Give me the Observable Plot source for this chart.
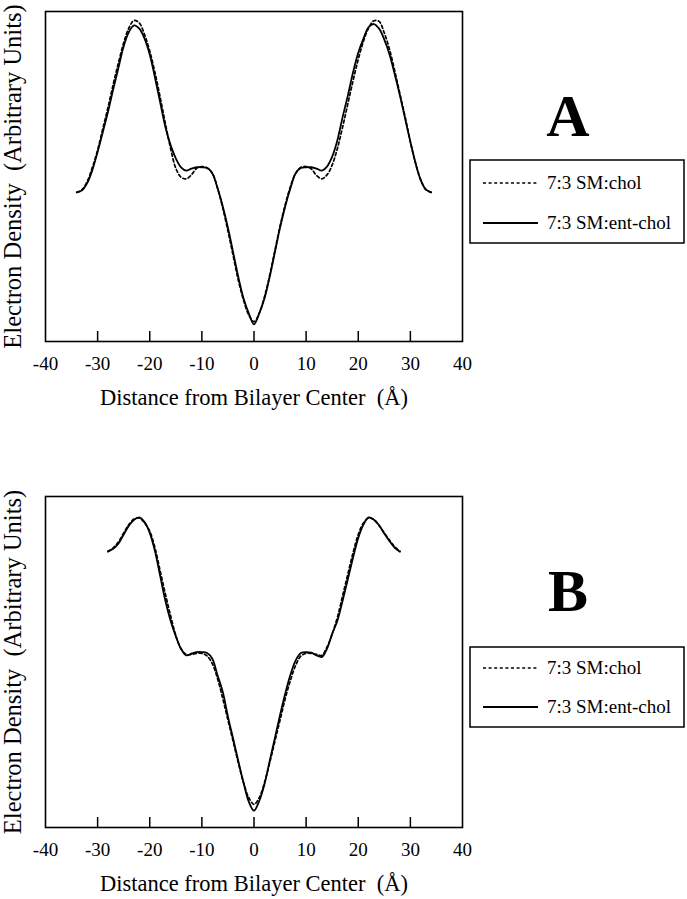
<!DOCTYPE html>
<html><head><meta charset="utf-8">
<script src="https://cdn.jsdelivr.net/npm/d3@7"></script>
<script src="https://cdn.jsdelivr.net/npm/@observablehq/plot@0.6"></script>
<style>
body{margin:0;background:#fff;font-family:"Liberation Serif","Times New Roman",serif;}
.panel{position:relative;width:687px;}
.overlay{position:absolute;left:465px;top:0;width:222px;}
</style></head><body>
<div id="A" class="panel"></div>
<div id="B" class="panel"></div>
<script>
// ---------- data ----------
const xTicks = [-40, -30, -20, -10, 0, 10, 20, 30, 40];
const seriesNames = ["7:3 SM:chol", "7:3 SM:ent-chol"];
const xLabel = "Distance from Bilayer Center\u00a0 (Å)";
const yLabel = "Electron Density\u00a0 (Arbitrary Units)";

// Panel A
const distA = [-34,-33,-32,-31,-30,-29,-28,-27,-26,-25,-24,-23,-22,-21,-20,-19,-18,-17,-16,-15,-14,-13,-12,-11,-10,-9,-8,-7,-6,-5,-4,-3,-2,-1,0,1,2,3,4,5,6,7,8,9,10,11,12,13,14,15,16,17,18,19,20,21,22,23,24,25,26,27,28,29,30,31,32,33,34];
const cholA = [45.2,46,48.5,52.8,58,64.5,71,78,84.5,90.5,95,97.3,96.5,93,88,81.5,74,66,58.5,52.5,49.8,49.3,50.5,52.5,53,52.6,51,46.5,40.5,33.5,26,18.5,12.5,8,6,8.5,13.5,20,27.5,35,41.5,47,51,52.8,53,52.3,50.3,49.3,50.5,53.5,58.5,65,72,79,85.5,91,95,97.2,97,93.5,88.5,82,75,68,60.5,54,49,46,45.2];
const entA  = [45.2,45.8,48,52,57.5,63.5,69.7,76.5,83,89.5,93.8,95.8,94.8,91.8,87,80,72.5,65,59.5,55.5,52.8,51.8,52.4,52.8,52.8,52.6,51,46.5,41,34.5,27,19.5,13,8.5,5.2,8.5,13,19.5,27,34.5,41,46.5,51,52.6,52.8,52.8,52.4,51.8,53,56,61,68,74.5,81.5,87.5,91.8,95.3,96.2,94.8,91.5,87,81,74.5,67.5,60.5,54,48.8,46,45.2];

// Panel B
const distB = [-28,-27,-26,-25,-24,-23,-22,-21,-20,-19,-18,-17,-16,-15,-14,-13,-12,-11,-10,-9,-8,-7,-6,-5,-4,-3,-2,-1,0,1,2,3,4,5,6,7,8,9,10,11,12,13,14,15,16,17,18,19,20,21,22,23,24,25,26,27,28];
const cholB = [83.3,84.5,86.3,89,91.5,93.2,93.5,92,89.5,84.5,77.5,70.5,64,58,54,52.3,52.3,52.6,52.6,51.8,49.5,45,39,32.5,26,19.5,13.5,9,7,9,13.5,19.5,26,32.5,39,44.5,49,51.8,52.6,52.6,52.3,52,54.5,58.5,63.5,70,76.5,83,88.5,92,93.5,93,91.2,89,86.8,84.8,83.5];
const entB  = [83.5,84.2,85.8,88.5,91.2,93,93.7,92.3,89,83.5,76,68.5,62.5,57.8,54,52,52.5,53,53,52.7,51,46,41,33.5,26.8,20,13.5,7.8,5.1,8,13,20,27,34,40.5,46.2,50.5,52.7,53,52.8,52,51.5,54,58.5,62.5,68.5,75,81.5,87.5,91.5,93.7,93,91.3,88.8,86.5,84.5,83.3];

// ---------- drawing ----------
function panel(dist, chol, ent, {height, marginTop, marginBottom}) {
  const rows = dist.map((d, i) => ({d, chol: chol[i], ent: ent[i]}));
  return Plot.plot({
    width: 687, height, marginLeft: 45, marginRight: 225, marginTop, marginBottom,
    x: {domain: [-40, 40]},
    y: {domain: [0, 100]},
    style: {fontFamily: "'Liberation Serif', 'Times New Roman', serif", color: "#000", background: "#fff"},
    marks: [
      Plot.line(rows, {x: "d", y: "chol", curve: "catmull-rom", stroke: "#000", strokeWidth: 1.7, strokeDasharray: "3,2.6"}),
      Plot.line(rows, {x: "d", y: "ent", curve: "catmull-rom", stroke: "#000", strokeWidth: 1.8}),
      Plot.frame({stroke: "#000", strokeWidth: 1.6}),
      // inward-pointing tick marks (no labels)
      Plot.axisX({ticks: xTicks.slice(1, -1), tickSize: -10, fill: "none", stroke: "#000", strokeWidth: 1.5}),
      // tick labels
      Plot.axisX({ticks: xTicks, tickSize: 0, tickPadding: 15, fontSize: 19, tickFormat: d => String(d), label: null}),
      // axis titles
      Plot.axisX({ticks: [], tickSize: 0, fontSize: 22.5, label: xLabel, labelAnchor: "center", labelArrow: false, labelOffset: 63}),
      Plot.axisY({ticks: [], tickSize: 0, fontSize: 24.5, label: yLabel, labelAnchor: "center", labelArrow: false, labelOffset: 42})
    ]
  });
}

function overlay(letter, {h, letterY, boxY, boxH, row1, row2}) {
  const ns = "http://www.w3.org/2000/svg";
  const svg = document.createElementNS(ns, "svg");
  svg.setAttribute("class", "overlay");
  svg.setAttribute("width", 222); svg.setAttribute("height", h);
  svg.style.height = h + "px";
  const bx = 5; // box left = 470 in page coords
  const parts = [];
  parts.push(`<text x="103" y="${letterY}" text-anchor="middle" font-family="Liberation Serif, serif" font-weight="bold" font-size="60">${letter}</text>`);
  parts.push(`<rect x="${bx}" y="${boxY}" width="214" height="${boxH}" fill="#fff" stroke="#000" stroke-width="1.5"/>`);
  parts.push(`<line x1="18" x2="73" y1="${row1}" y2="${row1}" stroke="#000" stroke-width="1.6" stroke-dasharray="3,2.6"/>`);
  parts.push(`<line x1="18" x2="73" y1="${row2}" y2="${row2}" stroke="#000" stroke-width="1.8"/>`);
  parts.push(`<text x="82" y="${row1 + 6}" font-family="Liberation Serif, serif" font-size="19">${seriesNames[0]}</text>`);
  parts.push(`<text x="82" y="${row2 + 6}" font-family="Liberation Serif, serif" font-size="19">${seriesNames[1]}</text>`);
  svg.innerHTML = parts.join("");
  return svg;
}

const A = document.getElementById("A");
A.style.height = "420px";
A.append(panel(distA, cholA, entA, {height: 420, marginTop: 11, marginBottom: 79}));
A.append(overlay("A", {h: 260, letterY: 136, boxY: 160, boxH: 83, row1: 183, row2: 223}));

const B = document.getElementById("B");
B.style.height = "479px";
B.append(panel(distB, cholB, entB, {height: 479, marginTop: 76, marginBottom: 72}));
B.append(overlay("B", {h: 320, letterY: 191, boxY: 227, boxH: 80, row1: 248, row2: 287}));
</script>
</body></html>
